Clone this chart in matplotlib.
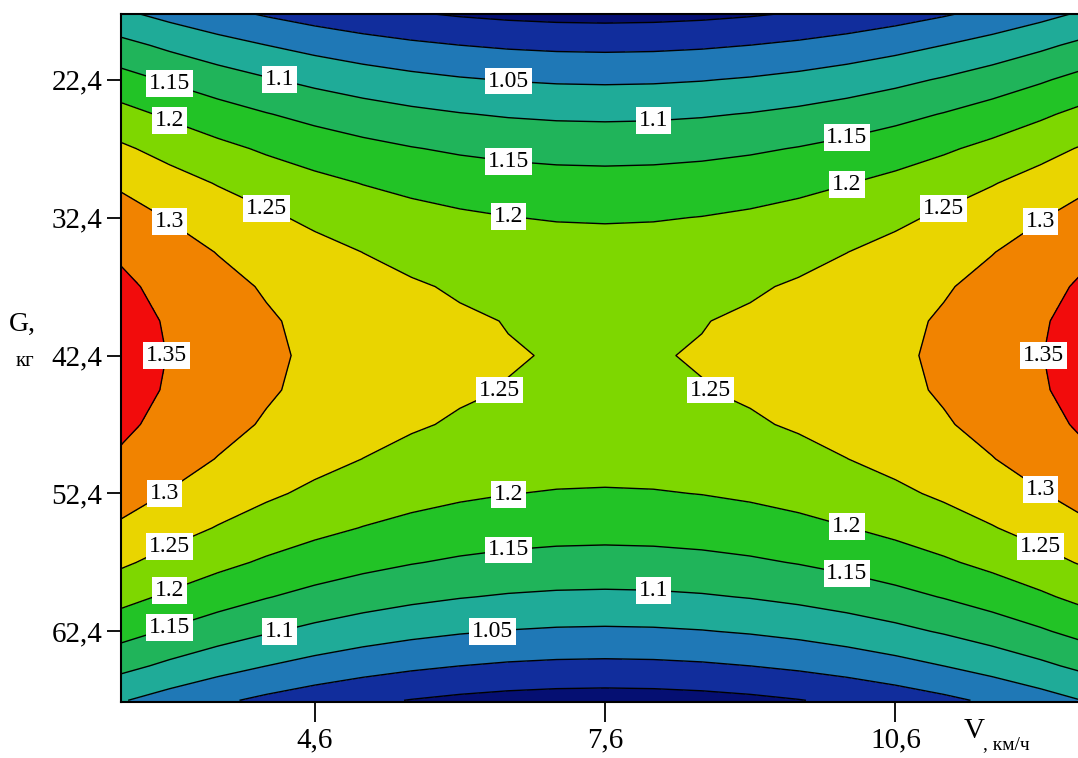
import matplotlib
matplotlib.use('Agg')
import matplotlib.pyplot as plt
import numpy as np

# second-order regression model in coded factors
# x1 = (V - V0) / dV, x2 = (G - G0) / dG
V0, dV = 7.6, 3.0
G0, dG = 42.4, 10.0
b0 = 1.247
b11 = 0.0451
b22 = -0.051

# computation grid (21 x 21 nodes)
v_grid = np.linspace(2.6, 12.6, 21)
g_grid = np.linspace(17.4, 67.4, 21)

line_levels = [0.95, 1.0, 1.05, 1.1, 1.15, 1.2, 1.25, 1.3, 1.35]
fill_levels = [0.85] + line_levels + [1.5]
fill_colors = ['#050f72', '#112d9c', '#1f78b6', '#1fab98', '#20b45a',
               '#22c326', '#7ed700', '#e9d500', '#f18300', '#f20c0c']

v_ticks = [4.6, 7.6, 10.6]
g_ticks = [22.4, 32.4, 42.4, 52.4, 62.4]

# where the isoline values are written
label_spots = {
    1.05: [(6.56, 22.8), (6.5, 62.74)],
    1.1: [(4.37, 22.57), (8.02, 25.3), (4.37, 62.8), (8.11, 59.9)],
    1.15: [(3.10, 22.93), (6.45, 28.44), (9.95, 27.28),
           (3.10, 62.89), (6.45, 57.0), (9.95, 58.5)],
    1.2: [(3.02, 25.2), (6.47, 32.57), (10.07, 30.3),
          (3.02, 59.3), (6.47, 52.9), (10.07, 55.2)],
    1.25: [(4.10, 31.85), (6.5, 45.26), (8.67, 45.26), (11.08, 32.07),
           (3.04, 56.65), (12.08, 56.65)],
    1.3: [(3.10, 33.08), (12.06, 33.15), (3.04, 52.66), (12.08, 52.66)],
    1.35: [(3.08, 43.09), (12.1, 43.09)],
}

plt.rcParams['font.family'] = ['Liberation Serif', 'DejaVu Serif']

V, G = np.meshgrid(v_grid, g_grid)
x1 = (V - V0) / dV
x2 = (G - G0) / dG
Y = b0 + b11 * x1 ** 2 + b22 * x2 ** 2

fig = plt.figure(figsize=(10.78, 7.58), dpi=100)
ax = fig.add_axes([121 / 1078, 1 - 701.7 / 758, 968 / 1078, 688.2 / 758])

ax.contourf(V, G, Y, levels=fill_levels, colors=fill_colors)
cs = ax.contour(V, G, Y, levels=line_levels, colors='k', linewidths=1.0)

ax.set_xlim(2.6, 12.6)
ax.set_ylim(67.5, 17.6)

# put each value label on the nearest vertex of its own isoline
to_px = ax.transData.transform
for lev, spots in label_spots.items():
    idx = line_levels.index(lev)
    segs = [s for s in cs.allsegs[idx] if len(s)]
    pts = np.vstack(segs)
    pts_px = to_px(pts)
    for sx, sy in spots:
        p = to_px((sx, sy))
        k = np.argmin(((pts_px - p) ** 2).sum(axis=1))
        ax.text(pts[k, 0], pts[k, 1], '%g' % lev, fontsize=17,
                ha='center', va='center', zorder=5,
                bbox=dict(boxstyle='square,pad=0.12', facecolor='white',
                          edgecolor='none'))

ax.set_xticks(v_ticks)
ax.set_xticklabels([str(v).replace('.', ',') for v in v_ticks])
ax.set_yticks(g_ticks)
ax.set_yticklabels([str(g).replace('.', ',') for g in g_ticks])
ax.tick_params(axis='x', direction='out', length=14.5, width=1.3, pad=4,
               labelsize=21)
ax.tick_params(axis='y', direction='out', length=10, width=1.3, pad=3.5,
               labelsize=21)
for s in ax.spines.values():
    s.set_linewidth(1.5)

fig.text(22 / 1078, 1 - 324 / 758, 'G,', fontsize=20, ha='center', va='center')
fig.text(25 / 1078, 1 - 362 / 758, 'кг', fontsize=15, ha='center', va='center')
fig.text(964 / 1078, 1 - 738 / 758, 'V', fontsize=21, ha='left', va='baseline')
fig.text(983 / 1078, 1 - 749 / 758, ', км/ч', fontsize=14, ha='left',
         va='baseline')

fig.savefig('out.png', dpi=100)
